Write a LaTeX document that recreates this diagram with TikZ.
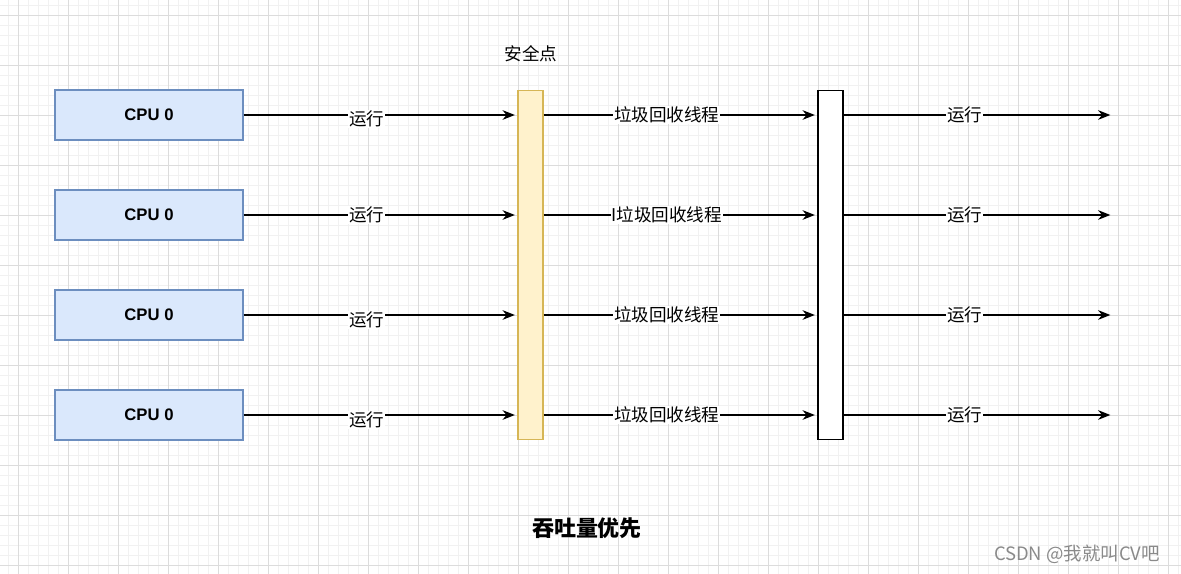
\documentclass[tikz,border=0pt]{standalone}
\usepackage{fontspec}
\setmainfont{Liberation Sans}
\newfontfamily\cjk{Noto Sans CJK SC}
\usetikzlibrary{arrows.meta}

\definecolor{cpufill}{HTML}{DAE8FC}
\definecolor{cpuline}{HTML}{6C8EBF}
\definecolor{spfill}{HTML}{FFF2CC}
\definecolor{spline}{HTML}{D6B656}
\definecolor{gridminor}{HTML}{F1F1F1}
\definecolor{gridmajor}{HTML}{DCDCDC}
\definecolor{markgray}{HTML}{8A8A8A}

\tikzset{
  cpu/.style={draw=cpuline, fill=cpufill, line width=0.6pt,
    minimum width=3.76cm, minimum height=1cm, inner sep=0pt,
    font=\fontsize{9.5}{11}\selectfont\bfseries},
  spbar/.style={draw=spline, fill=spfill, line width=0.6pt,
    minimum width=0.5cm, minimum height=7cm, inner sep=0pt},
  gcbar/.style={draw=black, fill=white, line width=0.6pt,
    minimum width=0.5cm, minimum height=7cm, inner sep=0pt},
  flow/.style={line width=0.8pt, -{Stealth[length=7pt,width=5.5pt]}, shorten >=1.5pt},
  lbl/.style={fill=white, inner sep=0.5pt, font=\cjk\fontsize{10}{12}\selectfont},
}

\begin{document}
\begin{tikzpicture}[x=0.02cm, y=-0.02cm]

  % canvas
  \fill[white] (0,0) rectangle (1181,574);
  \useasboundingbox (0,0) rectangle (1181,574);

  % grid
  \foreach \x in {8,18,...,1178} \draw[gridminor, line width=0.4pt] (\x,0) -- (\x,574);
  \foreach \y in {5,15,...,574} \draw[gridminor, line width=0.4pt] (0,\y) -- (1181,\y);
  \foreach \x in {18,68,...,1168} \draw[gridmajor, line width=0.4pt] (\x,0) -- (\x,574);
  \foreach \y in {15,65,...,565} \draw[gridmajor, line width=0.4pt] (0,\y) -- (1181,\y);

  % cpus
  \node[cpu] (cpu1) at (149,115) {CPU 0};
  \node[cpu] (cpu2) at (149,215) {CPU 0};
  \node[cpu] (cpu3) at (149,315) {CPU 0};
  \node[cpu] (cpu4) at (149,415) {CPU 0};

  % safe point and gc bars
  \node[spbar] (sp) at (530.5,265) {};
  \node[gcbar] (gc) at (830.5,265) {};
  \node[font=\cjk\fontsize{10}{12}\selectfont] (sptitle) at (531,54) {安全点};

  % free ends
  \coordinate (out1) at (1113,115);
  \coordinate (out2) at (1113,215);
  \coordinate (out3) at (1113,315);
  \coordinate (out4) at (1113,415);

  % flows
  \foreach \i/\gclbl/\dy in {1/垃圾回收线程/-2, 2/I垃圾回收线程/0, 3/垃圾回收线程/-3, 4/垃圾回收线程/-3} {
    \draw[flow] (cpu\i.east) -- node[lbl, pos=0.45, yshift=\dy] {运行} (cpu\i.east -| sp.west);
    \draw[flow] (cpu\i.east -| sp.east) -- node[lbl, pos=0.45] {\gclbl} (cpu\i.east -| gc.west);
    \draw[flow] (cpu\i.east -| gc.east) -- node[lbl, pos=0.45] {运行} (out\i);
  }

  % title and mark
  \node[font=\cjk\fontsize{12.5}{14}\selectfont\bfseries] (title) at (587,528) {吞吐量优先};
  \node[font=\cjk\fontsize{10.5}{12}\selectfont, text=markgray] (mark) at (1077,554) {CSDN @我就叫CV吧};

\end{tikzpicture}
\end{document}
